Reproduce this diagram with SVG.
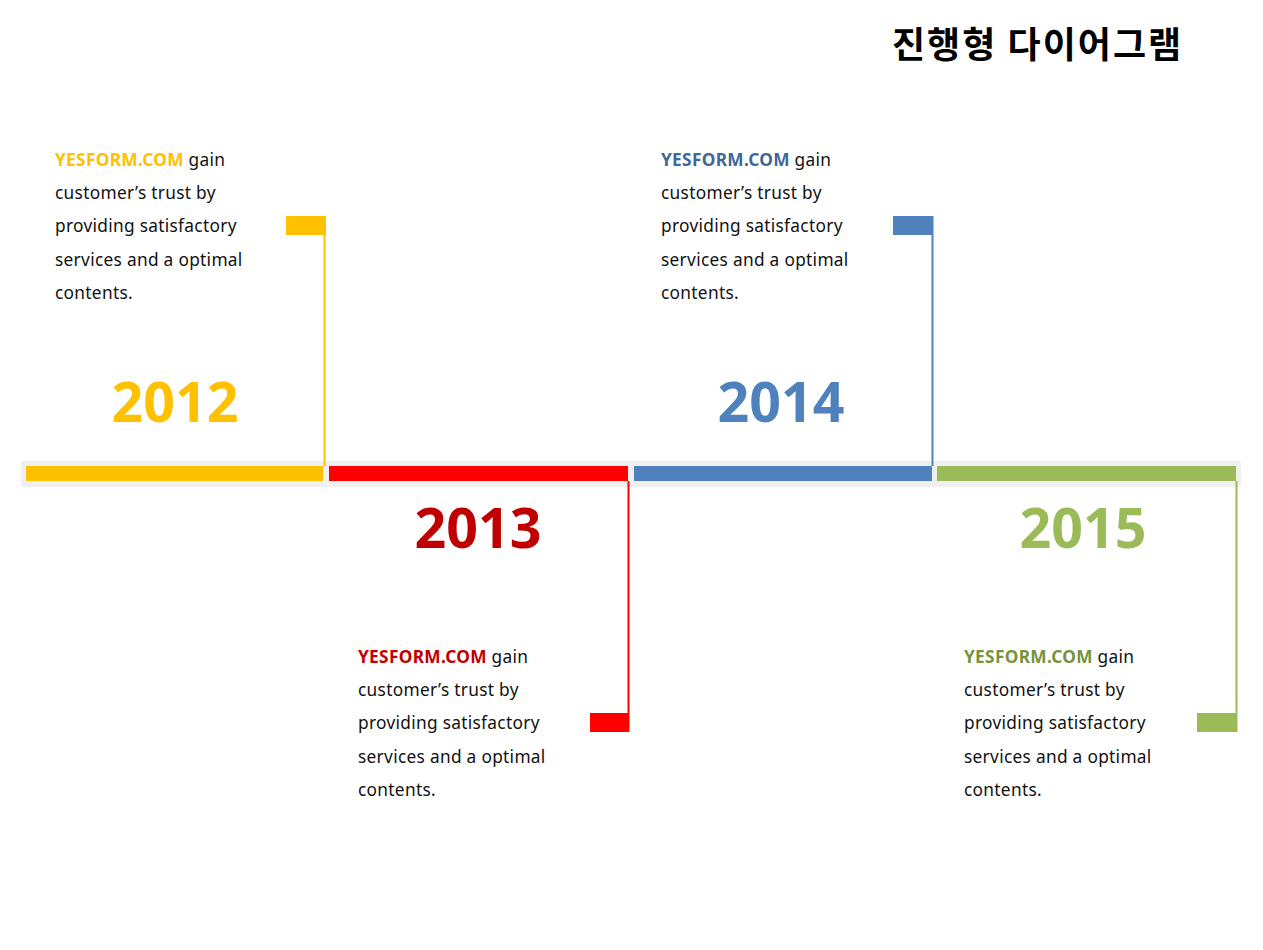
<svg xmlns="http://www.w3.org/2000/svg" width="1263" height="950" viewBox="0 0 1263 950">
<style>
.t{font-family:"Noto Sans","Noto Sans CJK KR",sans-serif;font-size:17.3px;letter-spacing:0.3px;fill:#111}
.h{font-weight:bold}
.y{font-family:"Noto Sans",sans-serif;font-size:55.5px;font-weight:bold;text-anchor:middle}
.title{font-family:"Noto Sans CJK KR","Noto Sans",sans-serif;font-size:36px;font-weight:bold;letter-spacing:2px;fill:#000}
</style>
<rect width="1263" height="950" fill="#fff"/>
<text class="title" x="892" y="58">진행형 다이어그램</text>
<g id="timeline">
<rect x="21" y="461" width="1220" height="26" rx="3" fill="#f0f0f0"/>
<rect x="26" y="466" width="297" height="15" fill="#FFC000"/>
<rect x="329" y="466" width="299" height="15" fill="#FF0000"/>
<rect x="634" y="466" width="298" height="15" fill="#4F81BD"/>
<rect x="937" y="466" width="299" height="15" fill="#9BBB59"/>
</g>
<g id="connectors">
<line x1="324.5" y1="216" x2="324.5" y2="466" stroke="#FFC000" stroke-width="2"/>
<rect x="286" y="216" width="40" height="19" fill="#FFC000"/>
<line x1="932.5" y1="216" x2="932.5" y2="466" stroke="#4F81BD" stroke-width="2"/>
<rect x="893" y="216" width="40" height="19" fill="#4F81BD"/>
<line x1="628.5" y1="481" x2="628.5" y2="732" stroke="#FF0000" stroke-width="2"/>
<rect x="590" y="713" width="39" height="19" fill="#FF0000"/>
<line x1="1236.5" y1="481" x2="1236.5" y2="732" stroke="#9BBB59" stroke-width="2"/>
<rect x="1197" y="713" width="40" height="19" fill="#9BBB59"/>
</g>
<g id="node-2012">
<text class="y" x="175" y="422" fill="#FFC000">2012</text>
<text class="t" x="55" y="166"><tspan class="h" fill="#FFC000">YESFORM.COM</tspan> gain</text>
<text class="t" x="55" y="199">customer’s trust by</text>
<text class="t" x="55" y="232">providing satisfactory</text>
<text class="t" x="55" y="266">services and a optimal</text>
<text class="t" x="55" y="299">contents.</text>
</g>
<g id="node-2013">
<text class="y" x="478" y="548" fill="#C00000">2013</text>
<text class="t" x="358" y="663"><tspan class="h" fill="#C00000">YESFORM.COM</tspan> gain</text>
<text class="t" x="358" y="696">customer’s trust by</text>
<text class="t" x="358" y="729">providing satisfactory</text>
<text class="t" x="358" y="763">services and a optimal</text>
<text class="t" x="358" y="796">contents.</text>
</g>
<g id="node-2014">
<text class="y" x="781" y="422" fill="#4F81BD">2014</text>
<text class="t" x="661" y="166"><tspan class="h" fill="#3F6797">YESFORM.COM</tspan> gain</text>
<text class="t" x="661" y="199">customer’s trust by</text>
<text class="t" x="661" y="232">providing satisfactory</text>
<text class="t" x="661" y="266">services and a optimal</text>
<text class="t" x="661" y="299">contents.</text>
</g>
<g id="node-2015">
<text class="y" x="1083" y="548" fill="#9BBB59">2015</text>
<text class="t" x="964" y="663"><tspan class="h" fill="#77933C">YESFORM.COM</tspan> gain</text>
<text class="t" x="964" y="696">customer’s trust by</text>
<text class="t" x="964" y="729">providing satisfactory</text>
<text class="t" x="964" y="763">services and a optimal</text>
<text class="t" x="964" y="796">contents.</text>
</g>
</svg>
